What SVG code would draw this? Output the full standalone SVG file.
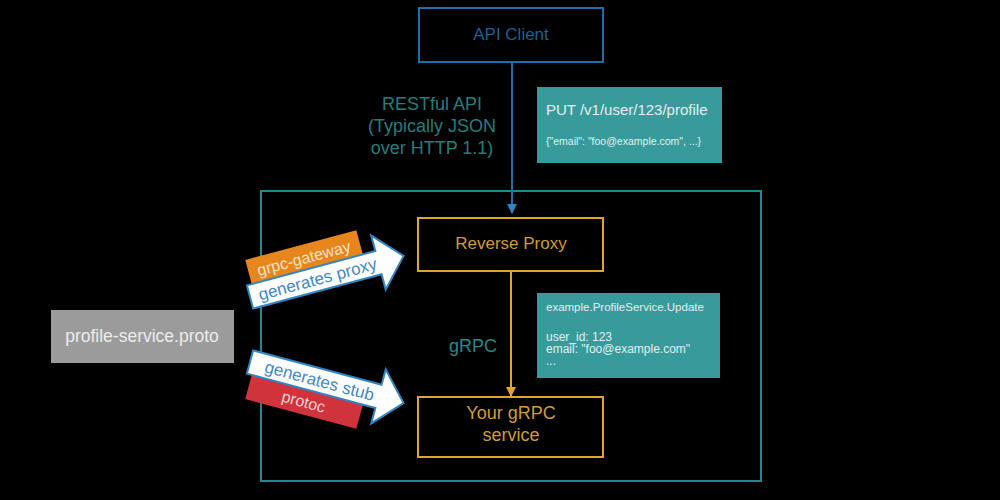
<svg xmlns="http://www.w3.org/2000/svg" width="1000" height="500" viewBox="0 0 1000 500">
<defs>
<style>
text{font-family:"Liberation Sans","DejaVu Sans",sans-serif}
.blue{fill:none;stroke:#1e6fa6;stroke-width:2}
.orng{fill:none;stroke:#e2a52b;stroke-width:2}
.teal{fill:#389b9b}
.tt{fill:#e4eeee}
.bigarrow{fill:#ffffff;stroke:#2f86c4;stroke-width:2;stroke-linejoin:miter}
.at{fill:#4389c2;font-size:17px}
.ot{fill:#cf9c35}
</style>
<marker id="mb" viewBox="0 0 10 10" refX="9" refY="5" markerWidth="5" markerHeight="5" orient="auto" markerUnits="strokeWidth"><path d="M0,0 L10,5 L0,10 z" fill="#2b86c8"/></marker>
<marker id="mo" viewBox="0 0 10 10" refX="9" refY="5" markerWidth="5" markerHeight="5" orient="auto" markerUnits="strokeWidth"><path d="M0,0 L10,5 L0,10 z" fill="#e2a52b"/></marker>
<path id="ar" d="M0,-12 L133,-12 L133,-28 L159,0 L133,28 L133,12 L0,12 Z"/>
</defs>
<rect width="1000" height="500" fill="#000"/>

<g id="frame"><rect x="261" y="191" width="500" height="290" fill="none" stroke="#1f8a8a" stroke-width="2"/></g>

<g id="connectors">
<line x1="512" y1="62" x2="512" y2="213" stroke="#1e6fa6" stroke-width="2" marker-end="url(#mb)"/>
<line x1="511" y1="272" x2="511" y2="396" stroke="#e2a52b" stroke-width="2" marker-end="url(#mo)"/>
</g>

<g id="api-client">
<rect class="blue" x="419" y="8" width="184" height="54"/>
<text x="511" y="40" text-anchor="middle" font-size="17" fill="#1b6194">API Client</text>
</g>

<g id="rest-label" fill="#247d7d" font-size="18" text-anchor="middle">
<text x="432" y="110">RESTful API</text>
<text x="432" y="132">(Typically JSON</text>
<text x="432" y="154">over HTTP 1.1)</text>
</g>

<g id="put-note">
<rect class="teal" x="537" y="87" width="185" height="76"/>
<text class="tt" x="546" y="115" font-size="15">PUT /v1/user/123/profile</text>
<text class="tt" x="546" y="145" font-size="10.5">{"email": "foo@example.com", ...}</text>
</g>

<g id="reverse-proxy">
<rect class="orng" x="418" y="218" width="185" height="53"/>
<text class="ot" x="511" y="249" text-anchor="middle" font-size="17">Reverse Proxy</text>
</g>

<g id="grpc-label"><text x="473" y="352" text-anchor="middle" font-size="18" fill="#268989">gRPC</text></g>

<g id="rpc-note">
<rect class="teal" x="537" y="293" width="183" height="85"/>
<text class="tt" x="546" y="311" font-size="11.5">example.ProfileService.Update</text>
<text class="tt" x="546" y="341" font-size="12">user_id: 123</text>
<text class="tt" x="546" y="353" font-size="12">email: "foo@example.com"</text>
<text class="tt" x="546" y="365" font-size="12">...</text>
</g>

<g id="grpc-service">
<rect class="orng" x="418" y="397" width="185" height="60"/>
<text class="ot" x="511" y="419" text-anchor="middle" font-size="18">Your gRPC</text>
<text class="ot" x="511" y="441" text-anchor="middle" font-size="18">service</text>
</g>

<g id="proto">
<rect x="51" y="310" width="183" height="53" fill="#9b9b9b"/>
<text x="142" y="342" text-anchor="middle" font-size="17.5" fill="#ececec">profile-service.proto</text>
</g>

<g id="gen-proxy" transform="translate(250,297) rotate(-15)">
<rect x="5" y="-37" width="115" height="26" fill="#e8861e"/>
<text x="62" y="-18" text-anchor="middle" font-size="16" fill="#fbe3c2">grpc-gateway</text>
<use href="#ar" class="bigarrow"/>
<text class="at" x="70" y="6" text-anchor="middle">generates proxy</text>
</g>

<g id="gen-stub" transform="translate(250,362) rotate(15)">
<rect x="5" y="11" width="115" height="26" fill="#d0333b"/>
<text x="62" y="30" text-anchor="middle" font-size="16" fill="#f7d0d0">protoc</text>
<use href="#ar" class="bigarrow"/>
<text class="at" x="72" y="6" text-anchor="middle">generates stub</text>
</g>
</svg>
